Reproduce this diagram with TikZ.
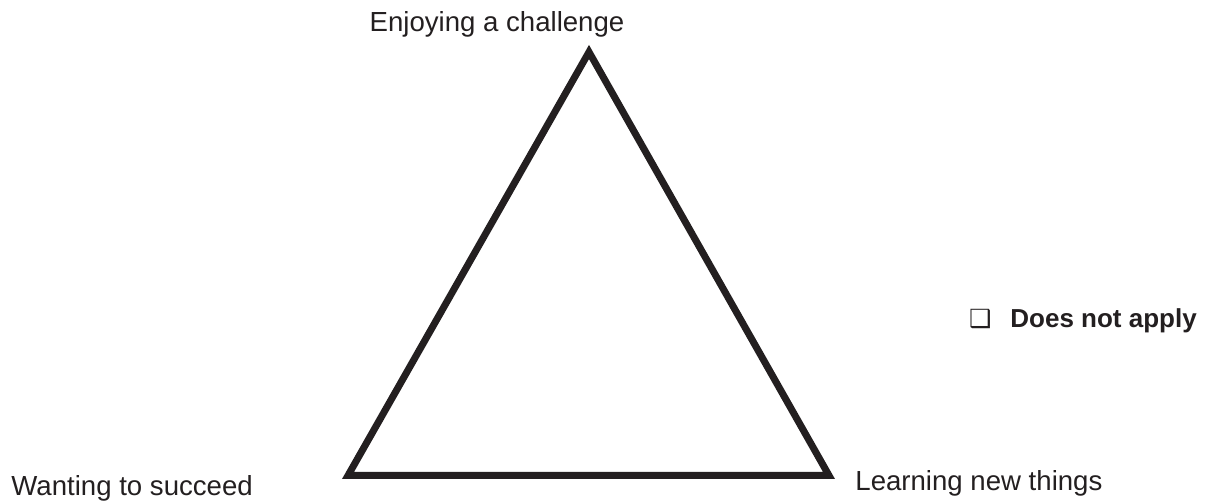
\documentclass[tikz,border=0pt]{standalone}
\usepackage{fontspec}
\setmainfont{Liberation Sans}
\newfontfamily\dingfont{DejaVu Sans}
\usepackage{tikz}
\usetikzlibrary{positioning}

\definecolor{inkgray}{HTML}{231F20}

\begin{document}
\begin{tikzpicture}[x=0.5pt,y=0.5pt]

\useasboundingbox (0,0) rectangle (1212,503);

\tikzset{
  corner label/.style={inner sep=0pt, text=inkgray, font=\fontsize{13.8}{16}\selectfont},
  motive edge/.style={line width=3.5pt, line join=miter, draw=inkgray}
}

% ============================
% TRIANGLE CORNERS
% ============================

\coordinate (top) at (589,451);
\coordinate (botleft) at (348,27.5);
\coordinate (botright) at (829,27.5);

\draw[motive edge] (top)--(botleft)--(botright)--cycle;

% ============================
% CORNER LABELS
% ============================

\node[corner label, anchor=base] (challenge) at (497,471) {Enjoying a challenge};
\node[corner label, anchor=base west] (succeed) at (11,7) {Wanting to succeed};
\node[corner label, anchor=base west] (learning) at (855,12) {Learning new things};

% ============================
% OPT-OUT BOX
% ============================

\node[corner label, anchor=base west, font=\fontsize{13}{15}\selectfont\bfseries] (notapply) at (1010,175) {Does not apply};
\node[inner sep=0pt, text=inkgray, anchor=base east, font=\fontsize{12.5}{14}\selectfont\dingfont] (optbox) at ([xshift=-9pt]notapply.base west) {❑};

\end{tikzpicture}
\end{document}
